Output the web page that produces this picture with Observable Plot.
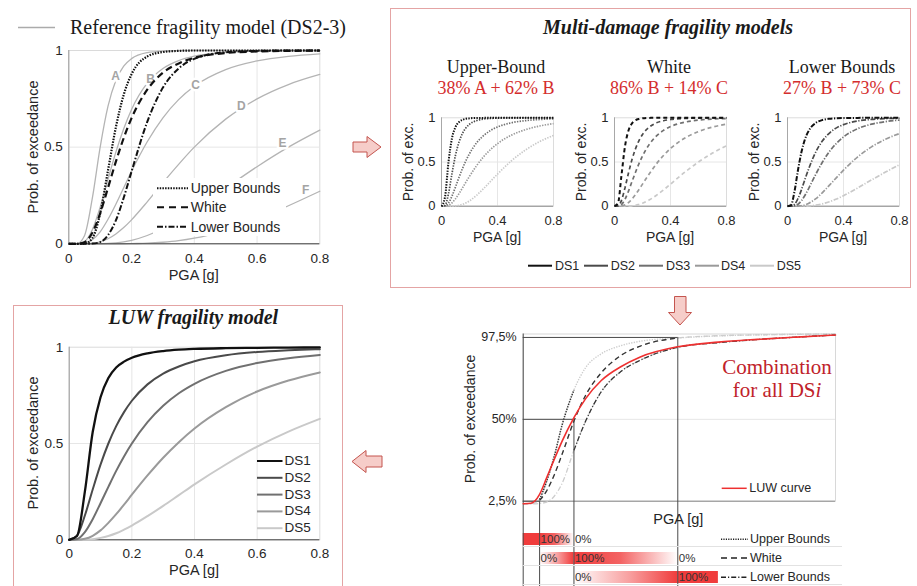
<!DOCTYPE html>
<html><head><meta charset="utf-8">
<script src="https://cdn.jsdelivr.net/npm/d3@7"></script>
<script src="https://cdn.jsdelivr.net/npm/@observablehq/plot@0.6"></script>
<style>
body{margin:0;background:#fff;}
#root{position:relative;width:917px;height:586px;overflow:hidden;background:#fff;font-family:'Liberation Sans',Arial,Helvetica,sans-serif;color:#262626;}
.t{position:absolute;white-space:nowrap;line-height:1;}
.c{transform:translate(-50%,-50%);}
.l{transform:translate(0,-50%);}
.rot{transform:translate(-50%,-50%) rotate(-90deg);}
</style></head><body>
<div id="root"></div>
<svg width="0" height="0" style="position:absolute">
<defs>
<linearGradient id="fadeOut" x1="0" x2="1" y1="0" y2="0">
<stop offset="0" stop-color="#f03c3c" stop-opacity="1"/>
<stop offset="0.45" stop-color="#f03c3c" stop-opacity="0.8"/>
<stop offset="1" stop-color="#f03c3c" stop-opacity="0"/>
</linearGradient>
<linearGradient id="fadeIn" x1="0" x2="1" y1="0" y2="0">
<stop offset="0" stop-color="#f03c3c" stop-opacity="0"/>
<stop offset="0.55" stop-color="#f03c3c" stop-opacity="0.5"/>
<stop offset="1" stop-color="#f03c3c" stop-opacity="1"/>
</linearGradient>
</defs></svg>
<script>
// ---------------- DATA ----------------
const pga = [0, 0.025, 0.05, 0.075, 0.1, 0.125, 0.15, 0.175, 0.2, 0.25, 0.3, 0.35, 0.4, 0.5, 0.6, 0.7, 0.8];

// Reference fragility curves (top-left)
const refNames = ["A", "B", "C", "D", "E", "F"];
const refA = [0, 0, 0.042, 0.236, 0.5, 0.712, 0.845, 0.919, 0.958, 0.989, 0.997, 0.999, 1, 1, 1, 1, 1];
const refB = [0, 0, 0.012, 0.073, 0.19, 0.334, 0.474, 0.595, 0.695, 0.831, 0.907, 0.948, 0.971, 0.99, 0.997, 0.999, 0.9995];
const refC = [0, 0, 0.003, 0.021, 0.062, 0.127, 0.205, 0.29, 0.375, 0.528, 0.652, 0.746, 0.815, 0.901, 0.946, 0.97, 0.983];
const refD = [0, 0, 0, 0.003, 0.01, 0.026, 0.051, 0.084, 0.124, 0.217, 0.316, 0.411, 0.5, 0.645, 0.75, 0.824, 0.876];
const refE = [0, 0, 0, 0, 0.001, 0.002, 0.005, 0.01, 0.018, 0.043, 0.079, 0.124, 0.176, 0.288, 0.399, 0.5, 0.588];
const refF = [0, 0, 0, 0, 0, 0, 0, 0, 0.001, 0.003, 0.008, 0.016, 0.029, 0.07, 0.127, 0.197, 0.272];
const refLabelX = [0.149, 0.261, 0.404, 0.55, 0.681, 0.755];
const refLabelY = [0.866, 0.854, 0.819, 0.71, 0.52, 0.276];

const upperTL = [0, 0, 0.001, 0.029, 0.157, 0.38, 0.603, 0.771, 0.877, 0.969, 0.992, 0.998, 1, 1, 1, 1, 1];
const whiteTL = [0, 0, 0.008, 0.057, 0.158, 0.29, 0.425, 0.547, 0.65, 0.797, 0.885, 0.933, 0.962, 0.987, 0.995, 0.998, 0.999];
const lowerTL = [0, 0, 0, 0.001, 0.009, 0.045, 0.121, 0.238, 0.374, 0.631, 0.808, 0.907, 0.957, 0.991, 0.998, 1, 1];

// Multi-damage models (top-right)
const dsNames = ["DS1", "DS2", "DS3", "DS4", "DS5"];
const ub1 = [0, 0.104, 0.5, 0.77, 0.896, 0.952, 0.977, 0.989, 0.994, 0.998, 0.999, 1, 1, 1, 1, 1, 1];
const ub2 = [0, 0.01, 0.142, 0.37, 0.576, 0.725, 0.824, 0.887, 0.927, 0.968, 0.986, 0.993, 0.997, 0.999, 1, 1, 1];
const ub3 = [0, 0.002, 0.036, 0.115, 0.218, 0.326, 0.427, 0.517, 0.595, 0.715, 0.798, 0.856, 0.896, 0.944, 0.968, 0.981, 0.989];
const ub4 = [0, 0, 0.01, 0.038, 0.084, 0.142, 0.207, 0.274, 0.338, 0.457, 0.558, 0.641, 0.708, 0.804, 0.866, 0.907, 0.934];
const ub5 = [0, 0, 0, 0.001, 0.003, 0.009, 0.021, 0.038, 0.061, 0.123, 0.198, 0.281, 0.363, 0.514, 0.636, 0.73, 0.8];

const wh1 = [0, 0.034, 0.352, 0.678, 0.856, 0.937, 0.972, 0.987, 0.994, 0.999, 1, 1, 1, 1, 1, 1, 1];
const wh2 = [0, 0.003, 0.066, 0.209, 0.376, 0.528, 0.649, 0.742, 0.811, 0.897, 0.943, 0.967, 0.981, 0.993, 0.997, 0.999, 0.999];
const wh3 = [0, 0.001, 0.019, 0.079, 0.171, 0.279, 0.384, 0.482, 0.568, 0.702, 0.795, 0.858, 0.901, 0.95, 0.974, 0.986, 0.992];
const wh4 = [0, 0, 0.002, 0.015, 0.041, 0.081, 0.132, 0.189, 0.25, 0.37, 0.48, 0.574, 0.652, 0.769, 0.845, 0.895, 0.928];
const wh5 = [0, 0, 0, 0, 0.001, 0.004, 0.01, 0.02, 0.034, 0.072, 0.124, 0.184, 0.249, 0.382, 0.5, 0.601, 0.684];

const lb1 = [0, 0.013, 0.167, 0.41, 0.615, 0.758, 0.849, 0.905, 0.94, 0.975, 0.989, 0.995, 0.998, 0.999, 1, 1, 1];
const lb2 = [0, 0.001, 0.021, 0.087, 0.188, 0.305, 0.417, 0.519, 0.607, 0.74, 0.828, 0.886, 0.923, 0.964, 0.982, 0.991, 0.995];
const lb3 = [0, 0, 0.004, 0.022, 0.063, 0.124, 0.197, 0.276, 0.355, 0.5, 0.619, 0.712, 0.783, 0.876, 0.928, 0.957, 0.974];
const lb4 = [0, 0, 0, 0.001, 0.006, 0.015, 0.031, 0.054, 0.082, 0.154, 0.238, 0.324, 0.408, 0.556, 0.671, 0.758, 0.822];
const lb5 = [0, 0, 0, 0, 0, 0, 0.003, 0.006, 0.011, 0.027, 0.051, 0.082, 0.119, 0.205, 0.297, 0.386, 0.469];

// LUW model (bottom-left)
const luw1 = [0, 0.02, 0.25, 0.56, 0.74, 0.84, 0.895, 0.925, 0.945, 0.968, 0.98, 0.987, 0.991, 0.995, 0.997, 0.998, 0.999];
const luw2 = [0, 0.022, 0.126, 0.261, 0.39, 0.5, 0.59, 0.663, 0.722, 0.807, 0.863, 0.9, 0.927, 0.958, 0.975, 0.984, 0.99];
const luw3 = [0, 0.004, 0.04, 0.107, 0.19, 0.275, 0.358, 0.433, 0.5, 0.611, 0.696, 0.761, 0.81, 0.877, 0.918, 0.943, 0.96];
const luw4 = [0, 0, 0.005, 0.021, 0.049, 0.088, 0.133, 0.182, 0.234, 0.334, 0.426, 0.507, 0.578, 0.689, 0.77, 0.827, 0.869];
const luw5 = [0, 0, 0.001, 0.003, 0.01, 0.02, 0.034, 0.053, 0.074, 0.123, 0.176, 0.232, 0.288, 0.391, 0.484, 0.562, 0.628];

// Combination (bottom-right)
const comboPga = [0, 0.02, 0.042, 0.06, 0.08, 0.1, 0.13, 0.16, 0.2, 0.25, 0.3, 0.396, 0.5, 0.6, 0.7, 0.8];
const luwCombo   = [0.01, 0.013, 0.065, 0.16, 0.27, 0.375, 0.51, 0.62, 0.725, 0.805, 0.862, 0.921, 0.948, 0.964, 0.977, 0.989];
const upperCombo = [0.01, 0.012, 0.035, 0.14, 0.29, 0.47, 0.67, 0.8, 0.88, 0.927, 0.953, 0.972, 0.984, 0.99, 0.993, 0.995];
const whiteCombo = [0.01, 0.011, 0.03, 0.085, 0.18, 0.3, 0.49, 0.64, 0.77, 0.87, 0.925, 0.972, 0.985, 0.99, 0.993, 0.995];
const lowerCombo = [0.008, 0.009, 0.012, 0.02, 0.055, 0.13, 0.32, 0.49, 0.66, 0.777, 0.843, 0.918, 0.945, 0.963, 0.977, 0.989];
const upperActive = [0.042, 0.13];
const whiteActive = [0.042, 0.396];
const lowerActive = [0.13, 0.8];
const guidePga = [0.042, 0.13, 0.396];
const guideLevel = [0.025, 0.5, 0.975];
const levelLabels = ["2,5%", "50%", "97,5%"];

// weight rows
const rowNames = ["Upper Bounds", "White", "Lower Bounds"];
const blendRow = ["Upper Bounds", "Upper Bounds", "White", "White", "Lower Bounds", "Lower Bounds"];
const blendFrom = [0, 0.042, 0.042, 0.13, 0.13, 0.396];
const blendTo = [0.042, 0.13, 0.13, 0.396, 0.396, 0.5];
const blendStart = [100, 100, 0, 100, 0, 100];
const blendEnd = [100, 0, 100, 0, 100, 100];
const weightRow = ["Upper Bounds", "Upper Bounds", "White", "White", "White", "Lower Bounds", "Lower Bounds"];
const weightX = [0.042, 0.13, 0.042, 0.13, 0.396, 0.13, 0.396];
const weightText = ["100%", "0%", "0%", "100%", "0%", "0%", "100%"];

// ticks
const mainTicksX = [0, 0.2, 0.4, 0.6, 0.8];
const subTicksX = [0, 0.4, 0.8];
const ticksY = [0, 0.5, 1];

// ---------------- STYLE / LAYOUT ----------------
const SANS = "'Liberation Sans', Arial, Helvetica, sans-serif";
const SERIF = "'Liberation Serif', 'Times New Roman', serif";
const dsColors = ["#111111", "#4a4a4a", "#707070", "#9a9a9a", "#c9c9c9"];
const RED = "#ee3030";
const root = document.getElementById("root");
const fmt = d => String(d);
const BUTT = {strokeLinecap: "butt", strokeLinejoin: "miter"};

function place(svg, left, top) {
  svg.style.position = "absolute";
  svg.style.left = left + "px";
  svg.style.top = top + "px";
  root.appendChild(svg);
}
function series(xs, ys) { return ys.map((y, i) => ({x: xs[i], y})); }
function baseStyle(fs) {
  return {background: "transparent", overflow: "visible", fontFamily: SANS, fontSize: fs + "px", color: "#262626"};
}

// ---------- Top-left ----------
{
  const refs = [refA, refB, refC, refD, refE, refF];
  const labels = refNames.map((n, i) => ({n, x: refLabelX[i], y: refLabelY[i]}));
  const grid = mainTicksX.slice(1, -1);
  const p = Plot.plot({
    width: 335, height: 250, marginLeft: 68.3, marginRight: 15.7, marginTop: 10, marginBottom: 46.7,
    style: baseStyle(13.5),
    x: {domain: [0, 0.8], ticks: mainTicksX, tickFormat: fmt, tickSize: 0, tickPadding: 10, label: null},
    y: {domain: [0, 1], ticks: ticksY, tickFormat: fmt, tickSize: 0, tickPadding: 6, label: null},
    marks: [
      Plot.frame({stroke: "#dadada"}),
      Plot.ruleX(grid, {stroke: "#e6e6e6"}),
      Plot.ruleY([ticksY[1]], {stroke: "#e6e6e6"}),
      ...refs.map(r => Plot.line(series(pga, r), {x: "x", y: "y", stroke: "#b4b4b4", strokeWidth: 1.3, curve: "monotone-x"})),
      Plot.text(labels, {x: "x", y: "y", text: "n", fill: "#a4a4a4", fontWeight: "bold", fontSize: 12, stroke: "white", strokeWidth: 5, paintOrder: "stroke", fontFamily: SANS}),
      Plot.ruleX([0], {stroke: "#9a9a9a"}),
      Plot.ruleY([0], {stroke: "#404040"}),
      Plot.line(series(pga, lowerTL), {x: "x", y: "y", stroke: "#111", strokeWidth: 2, strokeDasharray: "6,2,1.5,2", curve: "monotone-x", ...BUTT}),
      Plot.line(series(pga, whiteTL), {x: "x", y: "y", stroke: "#111", strokeWidth: 2.2, strokeDasharray: "7,4", curve: "monotone-x", ...BUTT}),
      Plot.line(series(pga, upperTL), {x: "x", y: "y", stroke: "#111", strokeWidth: 2.2, strokeDasharray: "1.5,1.3", curve: "monotone-x", ...BUTT})
    ]
  });
  place(p, 0, 40);
}

// ---------- Top-right subplots ----------
const subFrames = [441, 614, 787];
const subSets = [[ub1, ub2, ub3, ub4, ub5], [wh1, wh2, wh3, wh4, wh5], [lb1, lb2, lb3, lb4, lb5]];
const subDash = ["1.4,1.3", "4,3", "5,1.6,1.2,1.6"];
subSets.forEach((set, k) => {
  const p = Plot.plot({
    width: 169, height: 130, marginLeft: 45, marginRight: 12, marginTop: 10.3, marginBottom: 31.3,
    style: baseStyle(13),
    x: {domain: [0, 0.8], ticks: subTicksX, tickFormat: fmt, tickSize: 0, tickPadding: 9.6, label: null},
    y: {domain: [0, 1], ticks: ticksY, tickFormat: fmt, tickSize: 0, tickPadding: 6, label: null},
    marks: [
      Plot.frame({stroke: "#dcdcdc"}),
      Plot.ruleX([subTicksX[1]], {stroke: "#e6e6e6"}),
      Plot.ruleY([ticksY[1]], {stroke: "#e6e6e6"}),
      Plot.ruleX([0], {stroke: "#a8a8a8"}),
      Plot.ruleY([0], {stroke: "#888"}),
      ...set.map((vals, j) => ({vals, j})).reverse().map(({vals, j}) =>
        Plot.line(series(pga, vals), {x: "x", y: "y", stroke: dsColors[j], strokeWidth: j === 0 ? 2 : 1.7, strokeDasharray: subDash[k], curve: "monotone-x", ...BUTT}))
    ]
  });
  place(p, subFrames[k] - 45, 107);
});

// ---------- Bottom-left LUW ----------
{
  const set = [luw1, luw2, luw3, luw4, luw5];
  const grid = mainTicksX.slice(1, -1);
  const p = Plot.plot({
    width: 335, height: 250, marginLeft: 68.7, marginRight: 15.7, marginTop: 10.7, marginBottom: 46.7,
    style: baseStyle(13.5),
    x: {domain: [0, 0.8], ticks: mainTicksX, tickFormat: fmt, tickSize: 0, tickPadding: 9, label: null},
    y: {domain: [0, 1], ticks: ticksY, tickFormat: fmt, tickSize: 0, tickPadding: 6, label: null},
    marks: [
      Plot.frame({stroke: "#dadada"}),
      Plot.ruleX(grid, {stroke: "#e6e6e6"}),
      Plot.ruleY([ticksY[1]], {stroke: "#e6e6e6"}),
      Plot.ruleX([0], {stroke: "#9a9a9a"}),
      Plot.ruleY([0], {stroke: "#404040"}),
      ...set.map((vals, j) => ({vals, j})).reverse().map(({vals, j}) =>
        Plot.line(series(pga, vals), {x: "x", y: "y", stroke: dsColors[j], strokeWidth: j === 0 ? 2.3 : 2, curve: "monotone-x"}))
    ]
  });
  place(p, 0, 336);
}

// ---------- Bottom-right combination ----------
const BR = {left: 480, top: 326, width: 380, height: 260, ml: 42.7, mr: 25, mt: 7.5, mb: 85.3};
const yDomBR = [0.025, 0.995];
{
  const segs = blendRow.map((r, i) => ({row: r, x1: blendFrom[i], x2: blendTo[i], a: blendStart[i], b: blendEnd[i]}));
  const wl = weightRow.map((r, i) => ({row: r, x: weightX[i], t: weightText[i]}));
  const rows = Plot.plot({
    width: BR.width, height: 56, marginLeft: BR.ml, marginRight: BR.mr, marginTop: 0, marginBottom: 0,
    style: baseStyle(11.5),
    x: {domain: [0, 0.8], axis: null},
    y: {type: "band", domain: rowNames, range: [-1.5, 57], paddingInner: 0.385, paddingOuter: 0.2, axis: null},
    marks: [
      Plot.barX(segs.filter(s => s.a === s.b), {x1: "x1", x2: "x2", y: "row", fill: "#f03c3c"}),
      Plot.barX(segs.filter(s => s.a > s.b), {x1: "x1", x2: "x2", y: "row", fill: "url(#fadeOut)"}),
      Plot.barX(segs.filter(s => s.a < s.b), {x1: "x1", x2: "x2", y: "row", fill: "url(#fadeIn)"}),
      Plot.text(wl, {x: "x", y: "row", text: "t", textAnchor: "start", dx: 1, fontSize: 11.5, fill: "#333"})
    ]
  });
  place(rows, BR.left, 530);

  const guides = guidePga.map((x, i) => ({pga: x, level: guideLevel[i]}));
  const act = (vals, r) => series(comboPga, vals).filter(d => d.x >= r[0] && d.x <= r[1]);
  const p = Plot.plot({
    width: BR.width, height: BR.height, marginLeft: BR.ml, marginRight: BR.mr, marginTop: BR.mt, marginBottom: BR.mb,
    style: baseStyle(12.5),
    x: {domain: [0, 0.8], axis: null},
    y: {domain: yDomBR, ticks: guideLevel, tickFormat: d => levelLabels[guideLevel.indexOf(d)], tickSize: 0, tickPadding: 6.5, label: null},
    marks: [
      Plot.frame({stroke: "#d8d8d8"}),
      Plot.ruleY([guideLevel[1]], {stroke: "#e6e6e6"}),
      Plot.ruleY([yDomBR[0]], {stroke: "#8c8c8c"}),
      Plot.line(series(comboPga, upperCombo), {x: "x", y: "y", stroke: "#cdcdcd", strokeWidth: 1.4, strokeDasharray: "1.3,1.3", curve: "monotone-x", ...BUTT}),
      Plot.line(series(comboPga, whiteCombo), {x: "x", y: "y", stroke: "#cdcdcd", strokeWidth: 1.3, strokeDasharray: "5,3.5", curve: "monotone-x", ...BUTT}),
      Plot.line(series(comboPga, lowerCombo), {x: "x", y: "y", stroke: "#cdcdcd", strokeWidth: 1.3, strokeDasharray: "5,2,1,2", curve: "monotone-x", ...BUTT}),
      Plot.line(act(upperCombo, upperActive), {x: "x", y: "y", stroke: "#333", strokeWidth: 1.5, strokeDasharray: "1.3,1.3", curve: "monotone-x", ...BUTT}),
      Plot.line(act(whiteCombo, whiteActive), {x: "x", y: "y", stroke: "#333", strokeWidth: 1.3, strokeDasharray: "5,3.5", curve: "monotone-x", ...BUTT}),
      Plot.line(act(lowerCombo, lowerActive), {x: "x", y: "y", stroke: "#333", strokeWidth: 1.3, strokeDasharray: "5,2,1,2", curve: "monotone-x", ...BUTT}),
      Plot.ruleY(guides, {y: "level", x1: () => 0, x2: "pga", stroke: "#4a4a4a"}),
      Plot.ruleX(guides, {x: "pga", y1: "level", y2: () => yDomBR[0], insetBottom: -BR.mb, stroke: "#4a4a4a"}),
      Plot.ruleX([0], {y1: () => yDomBR[1], y2: () => yDomBR[0], insetBottom: -BR.mb, stroke: "#4a4a4a"}),
      Plot.line(series(comboPga, luwCombo), {x: "x", y: "y", stroke: RED, strokeWidth: 1.6, curve: "monotone-x"})
    ]
  });
  place(p, BR.left, BR.top);
}

// ---------- white legend box (top-left) ----------
{
  const d = document.createElement("div");
  d.style.cssText = "position:absolute;left:153px;top:178px;width:133px;height:58px;background:#fff;";
  root.appendChild(d);
}

// ---------- decorations ----------
const deco = [];
const ln = (x1, x2, y, stroke, w, dash) =>
  deco.push(`<line x1="${x1}" x2="${x2}" y1="${y}" y2="${y}" stroke="${stroke}" stroke-width="${w}"${dash ? ` stroke-dasharray="${dash}"` : ""}/>`);
deco.push(`<rect x="390.5" y="8.5" width="520" height="279" fill="none" stroke="#e4a4a4" stroke-width="1"/>`);
deco.push(`<rect x="13.5" y="305.5" width="329" height="300" fill="none" stroke="#e4a4a4" stroke-width="1"/>`);
const arrowStyle = `fill="#f6cdc9" stroke="#c4554f" stroke-width="1"`;
deco.push(`<polygon points="353,142 367,142 367,136.5 381,147 367,157.5 367,152 353,152" ${arrowStyle}/>`);
deco.push(`<polygon points="674.5,296.5 686,296.5 686,312.5 691.5,312.5 680,325 668.5,312.5 674.5,312.5" ${arrowStyle}/>`);
deco.push(`<polygon points="352,461.5 366,450.5 366,456 382,456 382,467 366,467 366,472.5" ${arrowStyle}/>`);
ln(18, 55, 27.5, "#ababab", 1.3);
ln(157, 188, 188.3, "#111", 2, "1.5,1.2");
ln(157, 188, 207.3, "#111", 2, "7,5");
ln(157, 188, 226.7, "#111", 2, "6,2,1.5,2");
const dsLegX = [528, 584, 639, 695, 750];
dsLegX.forEach((x, i) => ln(x, x + 24, 265.7, dsColors[i], 2));
const blLegY = [461, 477.8, 494.6, 511.4, 528.2];
blLegY.forEach((y, i) => ln(257, 282.5, y, dsColors[i], 2));
ln(721.7, 746.7, 488.3, RED, 1.5);
ln(721, 748, 539.3, "#222", 1.6, "1.2,1.2");
ln(721, 748, 558, "#222", 1.6, "6,4");
ln(721, 748, 577.3, "#222", 1.6, "5,2,1.2,2");
[546.5, 565.5, 584.5].forEach(y => ln(522.7, 842, y, "#e2e2e2", 1));
{
  const s = document.createElementNS("http://www.w3.org/2000/svg", "svg");
  s.setAttribute("width", 917); s.setAttribute("height", 586);
  s.style.cssText = "position:absolute;left:0;top:0;pointer-events:none;";
  s.innerHTML = deco.join("");
  root.appendChild(s);
}

// ---------- texts ----------
function txt(str, x, y, o = {}) {
  const d = document.createElement("div");
  d.className = "t " + (o.anchor || "c");
  d.innerHTML = str;
  d.style.left = x + "px"; d.style.top = y + "px";
  d.style.fontSize = (o.size || 14) + "px";
  if (o.serif) d.style.fontFamily = SERIF;
  if (o.color) d.style.color = o.color;
  if (o.bold) d.style.fontWeight = "bold";
  if (o.italic) d.style.fontStyle = "italic";
  root.appendChild(d);
}
const DARK = "#1a1a1a", TRED = "#d42d2d";
txt("Reference fragility model (DS2-3)", 70, 27, {anchor: "l", size: 20, serif: true, color: DARK});
txt("Prob. of exceedance", 33.3, 146.7, {anchor: "rot", size: 14.5});
txt("PGA [g]", 193.7, 274.5, {size: 14.5});
txt("Upper Bounds", 190.7, 188.3, {anchor: "l", size: 14});
txt("White", 190.7, 207.3, {anchor: "l", size: 14});
txt("Lower Bounds", 190.7, 226.7, {anchor: "l", size: 14});
txt("Multi-damage fragility models", 668, 27, {size: 20, serif: true, bold: true, italic: true, color: DARK});
const subTitles = ["Upper-Bound", "White", "Lower Bounds"];
const subMixes = ["38% A + 62% B", "86% B + 14% C", "27% B + 73% C"];
subFrames.forEach((f, k) => {
  const cx = f + 56;
  txt(subTitles[k], cx - 1, 67, {size: 18, serif: true, color: DARK});
  txt(subMixes[k], cx - 1, 88, {size: 18, serif: true, color: TRED});
  txt("Prob. of exc.", f - 33, 161.5, {anchor: "rot", size: 14});
  txt("PGA [g]", cx, 237, {size: 14});
});
const dsTextX = [555, 610.7, 666, 721, 776.7];
dsNames.forEach((n, i) => txt(n, dsTextX[i], 265.7, {anchor: "l", size: 12.5}));
txt("LUW fragility model", 193.3, 316.7, {size: 20, serif: true, bold: true, italic: true, color: DARK});
txt("Prob. of exceedance", 33.3, 443, {anchor: "rot", size: 14.5});
txt("PGA [g]", 194, 570, {size: 14.5});
dsNames.forEach((n, i) => txt(n, 284.5, blLegY[i], {anchor: "l", size: 13.5}));
txt("Prob. of exceedance", 470, 418.5, {anchor: "rot", size: 14});
txt("PGA [g]", 678.3, 519, {size: 14.5});
txt("Combination", 777, 367.3, {size: 21, serif: true, color: "#c0222a"});
txt("for all DS<i>i</i>", 777, 390, {size: 21, serif: true, color: "#c0222a"});
txt("LUW curve", 749.3, 488.3, {anchor: "l", size: 12.5});
txt("Upper Bounds", 750, 539.3, {anchor: "l", size: 12.5});
txt("White", 750, 558, {anchor: "l", size: 12.5});
txt("Lower Bounds", 750, 577.3, {anchor: "l", size: 12.5});
</script>
</body></html>
